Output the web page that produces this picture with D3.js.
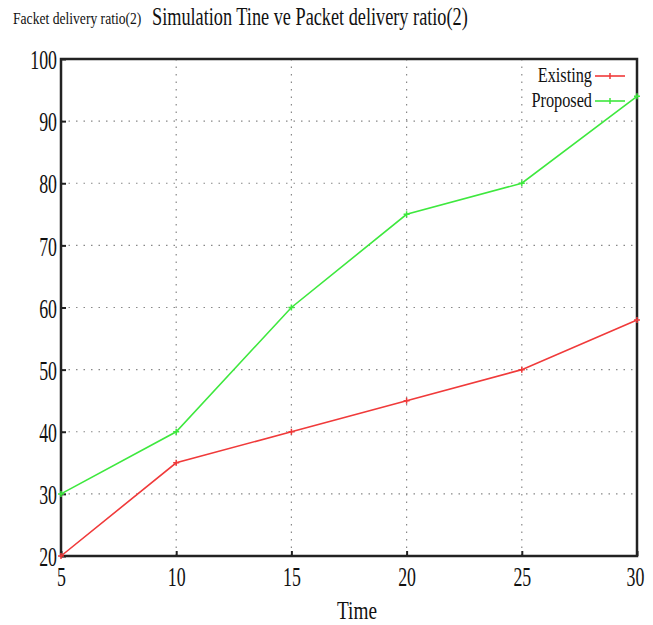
<!DOCTYPE html>
<html>
<head>
<meta charset="utf-8">
<script src="https://cdn.jsdelivr.net/npm/d3@7"></script>
<style>
  body { margin: 0; background: #fff; }
  text { font-family: "Liberation Serif", "DejaVu Serif", serif; fill: #111; }
</style>
</head>
<body>
<div id="wrapper"></div>
<script>
// data
const times = [5, 10, 15, 20, 25, 30];
const existing = [20, 35, 40, 45, 50, 58];
const proposed = [30, 40, 60, 75, 80, 94];
const xTicks = [5, 10, 15, 20, 25, 30];
const yTicks = [20, 30, 40, 50, 60, 70, 80, 90, 100];
const seriesNames = ["Existing", "Proposed"];
const seriesColors = ["#f03a3a", "#3ee83e"];

const dimensions = {
    width: 653,
    height: 625,
    margins: { top: 59, right: 16, bottom: 69, left: 61 }
};
dimensions.boundedWidth = dimensions.width - dimensions.margins.left - dimensions.margins.right;
dimensions.boundedHeight = dimensions.height - dimensions.margins.top - dimensions.margins.bottom;

// squeeze text horizontally by textLength (the fonts in the picture are narrow)
function narrow(sel, k) {
    sel.each(function() {
        const len = this.getComputedTextLength();
        d3.select(this).attr("textLength", len * k).attr("lengthAdjust", "spacingAndGlyphs");
    });
}

const svg = d3.select("#wrapper").append("svg")
    .attr("width", dimensions.width)
    .attr("height", dimensions.height);

const bounds = svg.append("g")
    .attr("transform", `translate(${dimensions.margins.left},${dimensions.margins.top})`);

const xScale = d3.scaleLinear().domain([5, 30]).range([0, dimensions.boundedWidth]);
const yScale = d3.scaleLinear().domain([20, 100]).range([dimensions.boundedHeight, 0]);

// dotted grid
bounds.append("g").selectAll("line")
    .data(xTicks.slice(1, -1))
    .join("line")
    .attr("x1", d => xScale(d)).attr("x2", d => xScale(d))
    .attr("y1", 0).attr("y2", dimensions.boundedHeight)
    .attr("stroke", "#888").attr("stroke-width", 1.2).attr("stroke-dasharray", "1.5,6");
bounds.append("g").selectAll("line")
    .data(yTicks.slice(1, -1))
    .join("line")
    .attr("x1", 0).attr("x2", dimensions.boundedWidth)
    .attr("y1", d => yScale(d)).attr("y2", d => yScale(d))
    .attr("stroke", "#888").attr("stroke-width", 1.2).attr("stroke-dasharray", "1.5,6");

// axes
const yAxis = bounds.append("g")
    .call(d3.axisLeft(yScale).tickValues(yTicks).tickSize(-5).tickPadding(4).tickFormat(d3.format("d")));
const xAxis = bounds.append("g")
    .attr("transform", `translate(0,${dimensions.boundedHeight})`)
    .call(d3.axisBottom(xScale).tickValues(xTicks).tickSize(-5).tickPadding(11).tickFormat(d3.format("d")));
[xAxis, yAxis].forEach(ax => {
    ax.select(".domain").remove();
    ax.selectAll(".tick line").attr("stroke", "#222").attr("stroke-width", 2);
    ax.selectAll("text").attr("font-size", 27).attr("fill", "#111").style("font-family", "Liberation Serif");
    narrow(ax.selectAll("text"), 0.66);
});
yAxis.selectAll("text").attr("dy", "0.36em");
xAxis.selectAll("text").attr("dy", "0.72em");
xAxis.selectAll(".tick").filter(d => d === 30).select("text").attr("dx", -2);

// frame
bounds.append("rect")
    .attr("width", dimensions.boundedWidth).attr("height", dimensions.boundedHeight)
    .attr("fill", "none").attr("stroke", "#222").attr("stroke-width", 2.5);

// lines
const lineGenerator = d3.line()
    .x((d, i) => xScale(times[i]))
    .y(d => yScale(d));
[existing, proposed].forEach((values, s) => {
    bounds.append("path")
        .attr("d", lineGenerator(values))
        .attr("fill", "none")
        .attr("stroke", seriesColors[s])
        .attr("stroke-width", 1.6);
    bounds.append("g").selectAll("path")
        .data(values)
        .join("path")
        .attr("d", (d, i) => `M${xScale(times[i]) - 3},${yScale(d)}h6M${xScale(times[i])},${yScale(d) - 3}v6`)
        .attr("stroke", seriesColors[s]).attr("stroke-width", 1.5);
});

// legend
const legend = bounds.append("g")
    .attr("transform", `translate(${dimensions.boundedWidth - 42},17)`);
seriesNames.forEach((name, i) => {
    const row = legend.append("g").attr("transform", `translate(0,${i * 25})`);
    row.append("line").attr("x1", 0).attr("x2", 30).attr("y1", 0).attr("y2", 0)
        .attr("stroke", seriesColors[i]).attr("stroke-width", 1.6);
    row.append("path").attr("d", "M15,-3v6").attr("stroke", seriesColors[i]).attr("stroke-width", 1.5);
    const t = row.append("text").attr("x", -3).attr("y", 6).attr("text-anchor", "end")
        .attr("font-size", 22).text(name);
    narrow(t, 0.74);
});

// titles
const sub = svg.append("text").attr("x", 13).attr("y", 24).attr("font-size", 17)
    .text("Facket delivery ratio(2)");
narrow(sub, 0.8);
const title = svg.append("text").attr("x", 152).attr("y", 25).attr("font-size", 25)
    .text("Simulation Tine ve Packet delivery ratio(2)");
narrow(title, 0.73);
const xLabel = svg.append("text").attr("x", dimensions.margins.left + dimensions.boundedWidth / 2 + 8)
    .attr("y", 619).attr("text-anchor", "middle").attr("font-size", 26)
    .text("Time");
narrow(xLabel, 0.74);
</script>
</body>
</html>
